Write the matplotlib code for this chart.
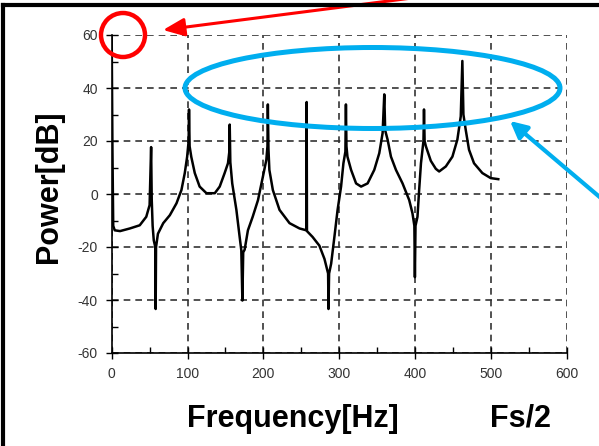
import numpy as np
import matplotlib
matplotlib.use("Agg")
import matplotlib.pyplot as plt
from matplotlib.patches import Ellipse
from matplotlib.lines import Line2D
from matplotlib.ticker import MultipleLocator

plt.rcParams['font.family'] = ['Liberation Sans', 'DejaVu Sans']
plt.rcParams['axes.unicode_minus'] = False

# spectrum (Hz, dB)
freq = [0, 1, 2, 4, 11, 24, 37, 45.6, 50, 52, 52.8, 54, 55.5, 57.5, 58, 58.5,
        61, 68, 76.7, 85.5, 92, 96.4, 99.5, 101.5, 102, 102.8, 105, 109.6, 116,
        125, 136, 142.5, 149, 153.4, 155.2, 155.7, 156.5, 159, 164.5, 168.8,
        171, 172.4, 173.5, 175.4, 179.7, 186, 193, 199.5, 204, 205.5, 206,
        206.8, 208, 212.6, 221.4, 234.6, 247.8, 256.8, 257.2, 257.6, 265, 274,
        280.7, 285.5, 286, 286.8, 289.5, 293.8, 298, 302.6, 305.7, 308.3, 309,
        309.7, 311, 315.8, 322.4, 329, 337.6, 346.4, 353, 357.4, 359.6, 360.8,
        364, 368.4, 375, 383.7, 392.5, 396.8, 399.3, 400, 400.8, 403.4, 405.6,
        408, 411.3, 412, 412.8, 414.5, 421, 427.6, 432, 440.8, 449.5, 456,
        460.5, 462.6, 464, 467, 471.4, 478, 489, 500, 510]
power = [59, 16, -12, -13.7, -14, -13, -11.8, -8.6, -4.2, 17.7, -2, -12, -17.5,
         -20, -43.4, -20, -15, -11, -8, -3.5, 1.5, 7.9, 14, 20, 31.9, 18, 14,
         7.9, 2.8, 0.3, 0.3, 2.8, 7.9, 11.6, 16, 26.2, 12, 4, -6, -16.2, -21.3,
         -40.2, -22, -21, -13.7, -8.6, -2.3, 6.6, 12.9, 18, 33.8, 17, 9.1, 1.5,
         -6, -11, -13, -13.7, 34.7, -14, -16.2, -19.5, -24.5, -30, -43.4, -30,
         -26.3, -16.2, -6, 2.8, 11.6, 16, 33.8, 18, 14.1, 9.1, 4, 2.8, 4, 9.1,
         15.4, 23, 37.6, 24, 20.5, 14.1, 9.1, 4, -2.3, -7.3, -12, -31.4, -12,
         -8.6, 1.5, 11.6, 20, 31.9, 20, 18, 12.5, 9.5, 8.5, 10.4, 14.1, 20.5,
         29.3, 50.2, 30, 24.3, 16.7, 11.6, 7.9, 6, 5.6]

x_ticks = [0, 100, 200, 300, 400, 500, 600]
y_ticks = [-60, -40, -20, 0, 20, 40, 60]

W, H = 599, 446
fig = plt.figure(figsize=(W / 100, H / 100), dpi=100)
ax = fig.add_axes([111.7 / W, 1 - 353 / H, (566.5 - 111.7) / W, (353 - 35) / H])

ax.plot(freq, power, color='black', lw=1.8)
ax.set_xlim(0, 600)
ax.set_ylim(-60, 60)
ax.set_xticks(x_ticks)
ax.set_yticks(y_ticks)
ax.xaxis.set_minor_locator(MultipleLocator(50))
ax.yaxis.set_minor_locator(MultipleLocator(10))
ax.tick_params(which='major', direction='inout', length=8, width=1,
               labelsize=10, labelcolor='#333333', pad=6)
ax.tick_params(which='minor', direction='in', length=4, width=1)
ax.grid(True, which='major', color='#333333', lw=1.2, ls=(0, (4, 3)))
for s in ['top', 'right']:
    ax.spines[s].set_visible(False)
for s in ['left', 'bottom']:
    ax.spines[s].set_linewidth(1.2)

# labels in figure pixels
fig.text(49 / W, 1 - 186.5 / H, 'Power[dB]', rotation=90, ha='center', va='center',
         fontsize=22, fontweight='bold')
fig.text(293 / W, 1 - 426.7 / H, 'Frequency[Hz]', ha='center', va='baseline',
         fontsize=22, fontweight='bold')
fig.text(521 / W, 1 - 426.7 / H, 'Fs/2', ha='center', va='baseline',
         fontsize=22, fontweight='bold')

# frame around the picture
fig.add_artist(Line2D([3 / W, 3 / W], [0, 1 - 5 / H], color='black', lw=3,
                      transform=fig.transFigure))
fig.add_artist(Line2D([3 / W, 1], [1 - 5 / H, 1 - 5 / H], color='black', lw=3,
                      transform=fig.transFigure))

# red circle and arrow
fig.add_artist(Ellipse((123 / W, 1 - 35 / H), 44 / W, 44 / H, fill=False,
                       edgecolor='#ff0000', lw=3.2, transform=fig.transFigure))
ax.annotate('', xy=(163, H - 30), xytext=(412, H + 2), xycoords='figure pixels',
            textcoords='figure pixels', annotation_clip=False,
            arrowprops=dict(arrowstyle='-|>,head_length=1.3,head_width=0.55',
                            color='#ff0000', lw=2.2, shrinkA=0, shrinkB=0))

# blue ellipse and arrow
blue = '#00aeef'
fig.add_artist(Ellipse((372.5 / W, 1 - 88 / H), 375 / W, 81 / H, fill=False,
                       edgecolor=blue, lw=3.6, transform=fig.transFigure))
ax.annotate('', xy=(510, H - 121), xytext=(602, H - 199), xycoords='figure pixels',
            textcoords='figure pixels', annotation_clip=False,
            arrowprops=dict(arrowstyle='-|>,head_length=1.0,head_width=0.5',
                            color=blue, lw=3, shrinkA=0, shrinkB=0))

fig.savefig('out.png', dpi=100)
